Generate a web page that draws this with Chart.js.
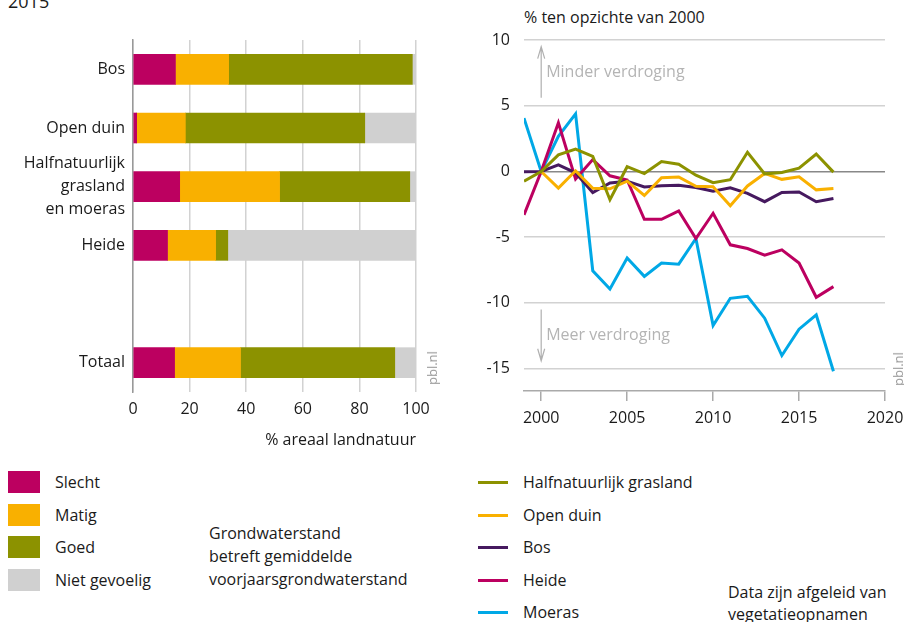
<!DOCTYPE html>
<html>
<head>
<meta charset="utf-8">
<script src="https://cdn.jsdelivr.net/npm/chart.js@4.4.1/dist/chart.umd.min.js"></script>
<style>
  body { margin: 0; background: #fff; font-family: "Open Sans", sans-serif; color: #1a1a1a; }
  #wrap { position: relative; width: 904px; height: 622px; overflow: hidden; }
  .abs { position: absolute; white-space: nowrap; font-size: 16px; }
  .sq { position: absolute; width: 32px; height: 22px; }
  .ln { position: absolute; width: 30px; height: 3px; }
  .pbl { position: absolute; font-size: 13px; color: #999; transform: translate(-50%, -50%) rotate(-90deg); }
</style>
</head>
<body>
<div id="wrap">
  <div class="abs" style="left:8px; top:-8px; font-size:18px; line-height:18px;">2015</div>
  <div class="abs" style="left:524px; top:6px; line-height:22px;">% ten opzichte van 2000</div>

  <div style="position:absolute; left:0; top:0; width:450px; height:460px;">
    <canvas id="barChart" width="450" height="460"></canvas>
  </div>
  <div style="position:absolute; left:460px; top:0; width:444px; height:460px;">
    <canvas id="lineChart" width="444" height="460"></canvas>
  </div>

  <div class="pbl" style="left:432px; top:368px;">pbl.nl</div>
  <div class="pbl" style="left:898px; top:369px;">pbl.nl</div>

  <!-- legend left -->
  <div class="sq" style="left:8px; top:471px; background:#BC0060;"></div>
  <div class="sq" style="left:8px; top:504px; background:#F9B000;"></div>
  <div class="sq" style="left:8px; top:536px; background:#8C9200;"></div>
  <div class="sq" style="left:8px; top:569px; background:#D0D0D0;"></div>
  <div class="abs" style="left:55px; top:471px; line-height:22px;">Slecht</div>
  <div class="abs" style="left:55px; top:504px; line-height:22px;">Matig</div>
  <div class="abs" style="left:55px; top:536px; line-height:22px;">Goed</div>
  <div class="abs" style="left:55px; top:569px; line-height:22px;">Niet gevoelig</div>

  <div class="abs" style="left:209px; top:522px; line-height:23px;">Grondwaterstand<br>betreft gemiddelde<br>voorjaarsgrondwaterstand</div>

  <!-- legend right -->
  <div class="ln" style="left:478px; top:481px; background:#8C9200;"></div>
  <div class="ln" style="left:478px; top:514px; background:#F9B000;"></div>
  <div class="ln" style="left:478px; top:546px; background:#46195F;"></div>
  <div class="ln" style="left:478px; top:579px; background:#BC0060;"></div>
  <div class="ln" style="left:478px; top:611px; background:#00A8E6;"></div>
  <div class="abs" style="left:523px; top:471px; line-height:22px;">Halfnatuurlijk grasland</div>
  <div class="abs" style="left:523px; top:504px; line-height:22px;">Open duin</div>
  <div class="abs" style="left:523px; top:536px; line-height:22px;">Bos</div>
  <div class="abs" style="left:523px; top:569px; line-height:22px;">Heide</div>
  <div class="abs" style="left:523px; top:601px; line-height:22px;">Moeras</div>

  <div class="abs" style="left:728px; top:581px; line-height:22px;">Data zijn afgeleid van<br>vegetatieopnamen</div>
</div>

<script>
// bar chart (2015)
const categories = ["Bos", "Open duin", ["Halfnatuurlijk", "grasland", "en moeras"], "Heide", "", "Totaal"];
const slecht = [15.0, 1.3, 16.5, 12.2, null, 14.7];
const matig = [18.8, 17.2, 35.3, 17.0, null, 23.3];
const goed = [64.9, 63.4, 46.0, 4.3, null, 54.5];
const nietGevoelig = [1.3, 18.1, 2.2, 66.5, null, 7.5];
const barTicks = [0, 20, 40, 60, 80, 100];

// line chart
const years = [1999, 2000, 2001, 2002, 2003, 2004, 2005, 2006, 2007, 2008, 2009, 2010, 2011, 2012, 2013, 2014, 2015, 2016, 2017];
const grasland = [-0.75, 0, 1.26, 1.7, 1.15, -2.15, 0.36, -0.16, 0.75, 0.55, -0.28, -0.85, -0.63, 1.46, -0.18, -0.08, 0.25, 1.33, -0.05];
const openDuin = [null, 0, -1.26, 0.05, -1.28, -1.32, -0.74, -1.83, -0.47, -0.42, -1.13, -1.16, -2.6, -1.1, -0.15, -0.6, -0.4, -1.4, -1.3];
const bos = [-0.02, 0, 0.5, -0.1, -1.6, -0.88, -0.74, -1.18, -1.08, -1.05, -1.22, -1.5, -1.24, -1.67, -2.3, -1.6, -1.56, -2.3, -2.05];
const heide = [-3.3, 0, 3.7, -0.58, 0.9, -0.33, -0.65, -3.64, -3.64, -3.0, -5.1, -3.18, -5.58, -5.86, -6.36, -5.96, -6.97, -9.57, -8.76];
const moeras = [4.06, 0, 2.67, 4.38, -7.55, -8.94, -6.59, -7.98, -6.97, -7.05, -5.1, -11.72, -9.65, -9.5, -11.16, -14.0, -12.0, -10.9, -15.2];
const yTicks = [10, 5, 0, -5, -10, -15];
const xTicks = [2000, 2005, 2010, 2015, 2020];

const FONT = "'Open Sans', sans-serif";
const TXT = "#1a1a1a";

Chart.defaults.font.family = FONT;
Chart.defaults.color = TXT;
Chart.defaults.animation = false;

function bar(label, data, color) {
  return { label: label, data: data, backgroundColor: color, borderWidth: 0, barThickness: 30 };
}

new Chart("barChart", {
  type: "bar",
  data: {
    labels: categories,
    datasets: [
      bar("Slecht", slecht, "#BC0060"),
      bar("Matig", matig, "#F9B000"),
      bar("Goed", goed, "#8C9200"),
      bar("Niet gevoelig", nietGevoelig, "#D0D0D0"),
    ],
  },
  options: {
    indexAxis: "y",
    responsive: false,
    layout: { padding: { top: 40, right: 34, left: 0, bottom: 0 } },
    scales: {
      x: {
        stacked: true,
        min: 0,
        max: 100,
        afterBuildTicks: (axis) => { axis.ticks = barTicks.map((v) => ({ value: v })); },
        afterFit: (axis) => { axis.height = 68; },
        border: { display: false },
        grid: { color: "#d2d2d2", lineWidth: 1.5, drawTicks: false },
        ticks: { padding: 8, font: { size: 16 }, color: TXT },
        title: {
          display: true,
          text: "% areaal landnatuur",
          align: "end",
          font: { size: 16 },
          color: TXT,
          padding: { top: 0, bottom: 10 },
        },
      },
      y: {
        stacked: true,
        afterFit: (axis) => { axis.width = 133; },
        border: { display: true, color: "#999", width: 1.5 },
        grid: { display: false, drawTicks: false },
        ticks: { autoSkip: false, padding: 8, font: { size: 16, lineHeight: 1.45 }, color: TXT },
      },
    },
    plugins: {
      legend: { display: false },
      tooltip: { enabled: false },
    },
  },
});

const arrowNotes = {
  id: "arrowNotes",
  beforeDatasetsDraw(chart) {
    const { ctx, scales: { x, y } } = chart;
    const ax = x.getPixelForValue(2000);
    ctx.save();
    ctx.strokeStyle = "#b0b0b0";
    ctx.fillStyle = "#b4b4b4";
    ctx.lineWidth = 1.2;
    function arrow(from, to) {
      const y0 = y.getPixelForValue(from), y1 = y.getPixelForValue(to);
      const dir = y1 < y0 ? 1 : -1;
      ctx.beginPath();
      ctx.moveTo(ax, y0);
      ctx.lineTo(ax, y1);
      ctx.moveTo(ax - 3.5, y1 + dir * 12);
      ctx.lineTo(ax, y1);
      ctx.lineTo(ax + 3.5, y1 + dir * 12);
      ctx.stroke();
    }
    arrow(5.6, 9.5);
    arrow(-10.5, -14.4);
    ctx.font = "16px " + FONT;
    ctx.textAlign = "left";
    ctx.textBaseline = "middle";
    ctx.fillText("Minder verdroging", ax + 5, y.getPixelForValue(7.5));
    ctx.fillText("Meer verdroging", ax + 5, y.getPixelForValue(-12.5));
    ctx.restore();
  },
};

function line(label, data, color) {
  return {
    label: label,
    data: data,
    borderColor: color,
    backgroundColor: color,
    borderWidth: 3,
    pointRadius: 0,
    tension: 0,
    spanGaps: false,
  };
}

new Chart("lineChart", {
  type: "line",
  data: {
    labels: years,
    datasets: [
      line("Halfnatuurlijk grasland", grasland, "#8C9200"),
      line("Open duin", openDuin, "#F9B000"),
      line("Bos", bos, "#46195F"),
      line("Heide", heide, "#BC0060"),
      line("Moeras", moeras, "#00A8E6"),
    ],
  },
  options: {
    responsive: false,
    layout: { padding: { top: 40, right: 19, left: 0, bottom: 0 } },
    scales: {
      x: {
        type: "linear",
        min: 1999,
        max: 2020,
        afterBuildTicks: (axis) => { axis.ticks = xTicks.map((v) => ({ value: v })); },
        afterFit: (axis) => { axis.height = 69; axis.paddingRight = 0; axis.paddingLeft = 0; },
        border: { display: true, color: "#aaa", width: 1.5 },
        grid: { drawOnChartArea: false, drawTicks: true, tickLength: 10, color: "#aaa", lineWidth: 1.5 },
        ticks: { padding: 8, font: { size: 16 }, color: TXT, callback: (v) => String(v) },
      },
      y: {
        min: -16.7,
        max: 10,
        afterBuildTicks: (axis) => { axis.ticks = yTicks.map((v) => ({ value: v })); },
        afterFit: (axis) => { axis.width = 64; axis.paddingTop = 0; axis.paddingBottom = 0; },
        border: { display: false },
        grid: {
          drawTicks: false,
          lineWidth: 1.5,
          color: (c) => (c.tick && c.tick.value === 0 ? "#888" : "#d2d2d2"),
        },
        ticks: { padding: 14, font: { size: 16 }, color: TXT, callback: (v) => String(v) },
      },
    },
    plugins: {
      legend: { display: false },
      tooltip: { enabled: false },
    },
  },
  plugins: [arrowNotes],
});
</script>
</body>
</html>
